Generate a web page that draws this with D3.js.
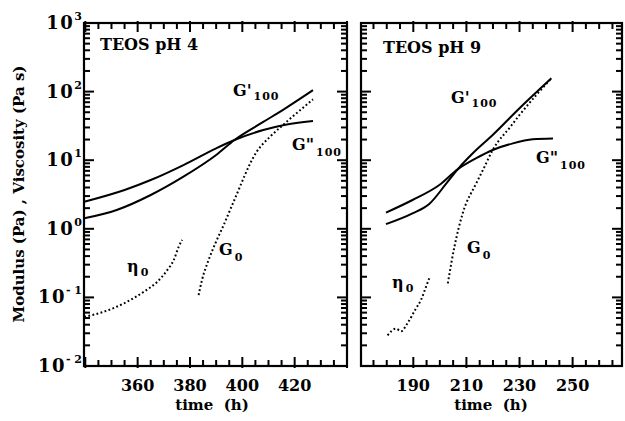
<!DOCTYPE html>
<html><head><meta charset="utf-8">
<script src="https://cdn.jsdelivr.net/npm/d3@7"></script>
<style>
body{margin:0;background:#fff}
svg text{font-family:"DejaVu Serif",serif;font-weight:bold;fill:#000}
</style>
</head><body><svg id="c" width="625" height="421"></svg>
<script>
// ---- data: [time (h), value] ----
const ph4_Gpp = [[339.6,2.48],[355,3.68],[365,5.14],[377.5,8.5],[390,14.9],[397,19.7],[408,27.5],[416,32.6],[427,37.2]];
const ph4_Gp  = [[339.6,1.42],[352,1.88],[365,3.11],[377.5,5.75],[390,11.9],[397,19.7],[408,36.1],[416,55.6],[427,105]];
const ph4_G0  = [[383.3,0.108],[384.6,0.18],[387.1,0.35],[389.7,0.615],[392.9,1.14],[396.7,2.5],[405.5,13.3],[410.6,22],[415.7,33],[427,77]];
const ph4_eta = [[339.6,0.052],[347.2,0.062],[354.8,0.082],[362.4,0.121],[367.5,0.169],[371.3,0.25],[373.8,0.35],[375.7,0.55],[377,0.69]];

const ph9_Gpp = [[179.7,1.72],[189.7,2.63],[199.8,4.35],[206.7,7.36],[213.7,10.7],[219.9,14.1],[227.5,17.6],[235,20.2],[242.6,20.8]];
const ph9_Gp  = [[179.7,1.17],[189.7,1.68],[196,2.3],[202.3,4.5],[206.7,7.36],[212.4,12.6],[219.9,23.3],[230,57.1],[242,156]];
const ph9_G0  = [[203,0.16],[205.5,0.55],[208.6,1.68],[213.7,4.6],[216.8,8.0],[219.9,14.1],[226.6,30.8],[230,45.6],[236.3,89],[242,156]];
const ph9_eta = [[180.3,0.028],[183.5,0.035],[185.4,0.032],[187.8,0.042],[191,0.069],[192.9,0.092],[194.8,0.143],[196,0.19]];

const yTickExps = [-2,-1,0,1,2,3];
const ph4_xTickLabels = [360,380,400,420];
const ph9_xTickLabels = [190,210,230,250];

// ---- layout ----
const svg = d3.select("#c");
const yTop = 23, yBot = 366;
const y = d3.scaleLog().domain([0.01,1000]).range([yBot, yTop]);

const panels = [
  {x: d3.scaleLinear().domain([339.5,440]).range([84,347]), labels: ph4_xTickLabels,
   title: "TEOS pH 4", titleX: 100, titleY: 50, Gp: ph4_Gp, Gpp: ph4_Gpp, G0: ph4_G0, eta: ph4_eta,
   lab: {gp:[233,96], gpp:[292,150], g0:[219,255], eta:[127,272]}, xlabelX: 212, ylabels: true},
  {x: d3.scaleLinear().domain([170.3,268.6]).range([361,622]), labels: ph9_xTickLabels,
   title: "TEOS pH 9", titleX: 383, titleY: 53, Gp: ph9_Gp, Gpp: ph9_Gpp, G0: ph9_G0, eta: ph9_eta,
   lab: {gp:[451,103], gpp:[536,163], g0:[467,253], eta:[392,288]}, xlabelX: 491, ylabels: false}
];

const minorY = [];
for (let e = -2; e < 3; e++) for (let m = 2; m <= 9; m++) minorY.push(m * Math.pow(10, e));
const majorY = yTickExps.map(e => Math.pow(10, e));

panels.forEach(p => {
  const x = p.x;
  const [d0, d1] = x.domain();
  const [x0, x1] = x.range();
  const g = svg.append("g");
  const step = 5;
  const ticks = d3.range(Math.ceil(d0/step)*step, d1 + 0.001, step);
  const base = p.labels[0] % 20;
  const isMajor = t => ((t - base) % 20 + 20) % 20 === 0;

  const tg = g.append("g").attr("stroke", "#000").attr("stroke-width", 2);
  // x ticks (bottom and top, inward; majors poke slightly outside)
  tg.selectAll("line.xb").data(ticks).join("line").attr("class", "xb")
    .attr("x1", d => x(d)).attr("x2", d => x(d))
    .attr("y1", d => yBot + (isMajor(d) ? 2 : 0)).attr("y2", d => yBot - (isMajor(d) ? 9 : 6));
  tg.selectAll("line.xt").data(ticks).join("line").attr("class", "xt")
    .attr("x1", d => x(d)).attr("x2", d => x(d))
    .attr("y1", d => yTop - (isMajor(d) ? 2 : 0)).attr("y2", d => yTop + (isMajor(d) ? 9 : 6));
  // y ticks (left and right, inward)
  const yt = majorY.map(v => [v, 10]).concat(minorY.map(v => [v, 6]));
  tg.selectAll("line.yl").data(yt).join("line").attr("class", "yl")
    .attr("x1", x0 - 1).attr("x2", d => x0 + d[1])
    .attr("y1", d => y(d[0])).attr("y2", d => y(d[0]));
  tg.selectAll("line.yr").data(yt).join("line").attr("class", "yr")
    .attr("x1", x1 + 1).attr("x2", d => x1 - d[1])
    .attr("y1", d => y(d[0])).attr("y2", d => y(d[0]));

  // x tick labels
  g.selectAll("text.xl").data(p.labels).join("text").attr("class", "xl")
    .attr("x", d => x(d)).attr("y", 391).attr("text-anchor", "middle")
    .style("font-size", "16px").text(d => d);

  // frame
  g.append("rect").attr("x", x0).attr("y", yTop).attr("width", x1 - x0).attr("height", yBot - yTop)
    .attr("fill", "none").attr("stroke", "#000").attr("stroke-width", 2.2);

  // curves
  const line = d3.line().x(d => x(d[0])).y(d => y(d[1])).curve(d3.curveMonotoneX);
  g.append("path").attr("d", line(p.Gpp)).attr("fill", "none").attr("stroke", "#000").attr("stroke-width", 2);
  g.append("path").attr("d", line(p.Gp)).attr("fill", "none").attr("stroke", "#000").attr("stroke-width", 2);
  g.append("path").attr("d", line(p.G0)).attr("fill", "none").attr("stroke", "#000").attr("stroke-width", 2)
    .attr("stroke-dasharray", "1.8,2.4");
  g.append("path").attr("d", line(p.eta)).attr("fill", "none").attr("stroke", "#000").attr("stroke-width", 2)
    .attr("stroke-dasharray", "1.8,2.4");

  // title
  g.append("text").attr("x", p.titleX).attr("y", p.titleY).style("font-size", "16px").text(p.title);

  // curve labels
  const addLab = (pos, main, sub, subDy) => {
    const t = g.append("text").attr("x", pos[0]).attr("y", pos[1]).style("font-size", "16px");
    t.append("tspan").text(main);
    t.append("tspan").attr("dy", subDy).attr("dx", 2).style("font-size", "11px").style("letter-spacing", "1px").text(sub);
  };
  addLab(p.lab.gp, "G'", "100", 4);
  addLab(p.lab.gpp, "G\"", "100", 6);
  addLab(p.lab.g0, "G", "0", 6);
  addLab(p.lab.eta, "η", "0", 4);

  // x title
  g.append("text").attr("x", p.xlabelX).attr("y", 410).attr("text-anchor", "middle")
    .style("font-size", "15px").text("time\u00a0\u00a0(h)");

  // y labels
  if (p.ylabels) {
    yTickExps.forEach(e => {
      const t = g.append("text").attr("x", 82).attr("y", y(Math.pow(10, e)) + 6).attr("text-anchor", "end");
      t.append("tspan").style("font-size", "18px").style("letter-spacing", "1.5px").text("10");
      t.append("tspan").attr("dy", -9).style("font-size", "11px")
        .text(e < 0 ? "- " + Math.abs(e) : String(e));
    });
  }
});

// y-axis title
svg.append("text").attr("transform", "translate(24,194) rotate(-90)").attr("text-anchor", "middle")
  .style("font-size", "15px").text("Modulus (Pa) , Viscosity (Pa s)");
</script>
</body></html>
